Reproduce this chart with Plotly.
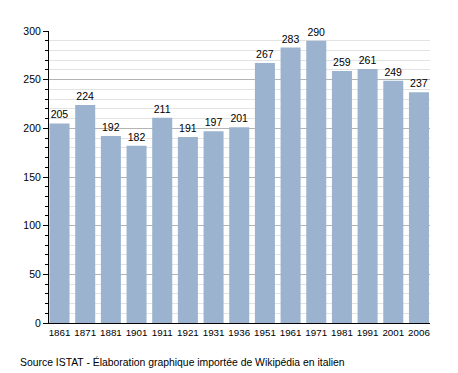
import plotly.graph_objects as go

years = ["1861","1871","1881","1901","1911","1921","1931","1936","1951","1961","1971","1981","1991","2001","2006"]
population = [205,224,192,182,211,191,197,201,267,283,290,259,261,249,237]
y_ticks = [0,50,100,150,200,250,300]

fig = go.Figure()
fig.add_trace(go.Bar(
    x=years, y=population,
    marker=dict(color="#9bb3cf", line=dict(width=0)),
    text=[str(v) for v in population], textposition="outside",
    textfont=dict(family="Liberation Sans, Arial", size=10.5, color="#000"),
    cliponaxis=False,
))
fig.update_layout(
    width=450, height=365,
    margin=dict(l=41, r=28, t=23, b=50, pad=0),
    paper_bgcolor="white", plot_bgcolor="white",
    bargap=0.22, showlegend=False, uniformtext=dict(minsize=10, mode="show"),
    font=dict(family="Liberation Sans, Arial", size=11, color="#000"),
    xaxis=dict(type="category", range=[-0.41, 14.43], showgrid=False, ticks="",
               showline=True, linecolor="#000", linewidth=1,
               tickfont=dict(size=9.8),
               tickangle=0, automargin=False),
    yaxis=dict(range=[0,300], tickvals=y_ticks, showline=True, linecolor="#000",
               linewidth=1, gridcolor="#b4b4b4", gridwidth=1, ticks="outside",
               ticklen=5, tickcolor="#000", zeroline=False, automargin=False,
               minor=dict(dtick=10, showgrid=True, gridcolor="#e3e3e3",
                          ticks="outside", ticklen=3, tickcolor="#000"),
               tickfont=dict(size=10.5)),
    annotations=[dict(text="Source ISTAT - Élaboration graphique importée de Wikipédia en italien",
                      x=-0.0814, xref="paper", xanchor="left",
                      y=-0.1336, yref="paper", yanchor="middle",
                      showarrow=False, font=dict(size=10.4))],
)
fig.write_html("out.html")
